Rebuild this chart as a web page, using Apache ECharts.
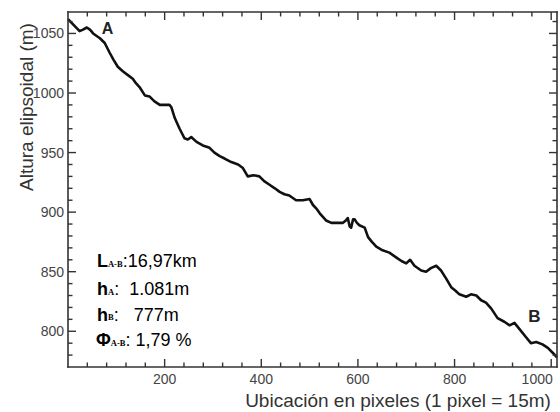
<!DOCTYPE html>
<html>
<head>
<meta charset="utf-8">
<script src="https://cdn.jsdelivr.net/npm/echarts@6/dist/echarts.min.js"></script>
<style>
  html, body { margin: 0; padding: 0; background: #fff; }
  #main { width: 560px; height: 412px; }
</style>
</head>
<body>
<div id="main"></div>
<script>
// perfil: ubicación (pixeles) y altura elipsoidal (m)
var posX = [0, 12, 24, 30, 39, 46, 52, 66, 76, 86, 94, 103, 114, 124, 134, 141, 148, 159, 169, 179,
  190, 203, 210, 214, 221, 231, 241, 248, 255, 266, 279, 293, 303, 314, 324, 338, 352, 362, 372, 384,
  396, 406, 417, 428, 438, 448, 458, 472, 486, 500, 507, 514, 521, 534, 545, 557, 569, 575, 579, 583,
  586, 590, 593, 598, 603, 614, 621, 629, 638, 651, 665, 679, 690, 700, 708, 717, 731, 741, 751, 762,
  772, 783, 793, 802, 810, 824, 834, 845, 855, 865, 876, 889, 903, 914, 924, 934, 948, 958, 969, 982,
  993, 1003, 1012];
var altura = [1062, 1057, 1052, 1053, 1055, 1053, 1050, 1046, 1042, 1034, 1028, 1022, 1018, 1015, 1012, 1008, 1005, 998, 997, 993,
  990, 990, 990, 988, 979, 970, 962, 961, 963, 959, 956, 954, 950, 947, 945, 942, 940, 937, 930, 931,
  930, 926, 923, 920, 917, 915, 914, 910, 910, 911, 906, 903, 899, 893, 891, 891, 891, 893, 895, 888,
  887, 894, 894, 891, 889, 887, 879, 875, 871, 868, 866, 862, 859, 857, 860, 855, 851, 850, 853, 855,
  851, 844, 837, 834, 831, 829, 831, 830, 826, 824, 819, 811, 808, 805, 807, 802, 795, 790, 791, 789,
  786, 782, 778];

// marcas de los ejes
var xMajor = [200, 400, 600, 800, 1000];
var xMinor = [40, 80, 120, 160, 240, 280, 320, 360, 440, 480, 520, 560, 640, 680, 720, 760, 840, 880, 920, 960];
var yMajor = [800, 850, 900, 950, 1000, 1050];
var yMinor = [780, 790, 810, 820, 830, 840, 860, 870, 880, 890, 910, 920, 930, 940, 960, 970, 980, 990,
  1010, 1020, 1030, 1040, 1060];

var xMin = 0, xMax = 1012, yMin = 770, yMax = 1068;
var axisColor = '#333';
var labelColor = '#444';
var fontName = 'Liberation Sans';

var perfil = [];
for (var i = 0; i < posX.length; i++) {
  perfil.push([posX[i], altura[i]]);
}

function annot(txt) {
  return {
    text: txt,
    verticalAlign: 'middle',
    rich: {
      b: { fontFamily: fontName, fontWeight: 'bold', fontSize: 18, color: '#222', lineHeight: 20, verticalAlign: 'bottom' },
      s: { fontFamily: 'Liberation Serif', fontWeight: 'bold', fontSize: 8.5, color: '#222', lineHeight: 20, verticalAlign: 'bottom', padding: [0, 0, 2, 0] },
      n: { fontFamily: fontName, fontSize: 18, color: '#222', lineHeight: 20, verticalAlign: 'bottom' }
    }
  };
}

var textos = [
  { type: 'text', x: 26, y: 107, rotation: Math.PI / 2,
    style: { text: 'Altura elipsoidal (m)', fill: '#333', font: '19px "Liberation Sans"', align: 'center', verticalAlign: 'middle' } },
  { type: 'text', x: 398, y: 400,
    style: { text: 'Ubicación en pixeles (1 pixel = 15m)', fill: '#333', font: '19px "Liberation Sans"', align: 'center', verticalAlign: 'middle' } },
  { type: 'text', x: 107.5, y: 28,
    style: { text: 'A', fill: '#222', font: 'bold 16px "Liberation Sans"', align: 'center', verticalAlign: 'middle' } },
  { type: 'text', x: 534.5, y: 316,
    style: { text: 'B', fill: '#222', font: 'bold 17px "Liberation Sans"', align: 'center', verticalAlign: 'middle' } },
  { type: 'text', x: 97, y: 260, style: annot('{b|L}{s|A-B}{n|:16,97km}') },
  { type: 'text', x: 97, y: 288, style: annot('{b|h}{s|A}{n|:  1.081m}') },
  { type: 'text', x: 97, y: 313.5, style: annot('{b|h}{s|B}{n|:   777m}') },
  { type: 'text', x: 96, y: 339, style: annot('{b|Φ}{s|A-B}{n|: 1,79 %}') }
];

var myChart = echarts.init(document.getElementById('main'), null, { renderer: 'svg' });
var option = {
  animation: false,
  grid: { left: 68, right: 2, top: 12, bottom: 45 },
  xAxis: {
    type: 'value',
    min: xMin,
    max: xMax,
    interval: 40,
    splitLine: { show: false },
    axisLine: { show: false },
    axisTick: { show: false },
    axisLabel: {
      color: labelColor,
      fontFamily: fontName,
      fontSize: 14,
      margin: 5,
      formatter: function (v) {
        if (xMajor.indexOf(v) < 0) return '';
        return v === 1000 ? '{r|1000}' : String(v);
      },
      rich: { r: { fontFamily: fontName, fontSize: 14, color: labelColor, padding: [0, 28, 0, 0] } }
    }
  },
  yAxis: {
    type: 'value',
    min: yMin,
    max: yMax,
    interval: 10,
    splitLine: { show: false },
    axisLine: { show: false },
    axisTick: { show: false },
    axisLabel: {
      color: labelColor,
      fontFamily: fontName,
      fontSize: 14,
      margin: 4,
      formatter: function (v) { return yMajor.indexOf(v) < 0 ? '' : String(v); }
    }
  },
  series: [{
    type: 'line',
    data: perfil,
    showSymbol: false,
    silent: true,
    lineStyle: { color: '#111', width: 2.6, join: 'round' }
  }],
  graphic: textos
};

myChart.setOption(option);

//marco y marcas como rectangulos rellenos, con la escala de la grilla
var marcas = [];
function px(v) { return myChart.convertToPixel({ gridIndex: 0 }, v); }
function caja(x, y, w, h) {
  marcas.push({ type: 'rect', silent: true, z: 100,
    shape: { x: x, y: y, width: w, height: h },
    style: { fill: axisColor } });
}
var p0 = px([xMin, yMin]), p1 = px([xMax, yMax]);
var bw = 1.6;
caja(p0[0] - bw / 2, p1[1] - bw / 2, p1[0] - p0[0] + bw, bw); // arriba
caja(p0[0] - bw / 2, p0[1] - bw / 2, p1[0] - p0[0] + bw, bw); // abajo
caja(p0[0] - bw / 2, p1[1] - bw / 2, bw, p0[1] - p1[1] + bw); // izquierda
caja(p1[0] - bw / 2, p1[1] - bw / 2, bw, p0[1] - p1[1] + bw); // derecha

function marcaX(v, len) {
  var a = px([v, yMin]), b = px([v, yMax]);
  caja(a[0] - 0.7, a[1] - len, 1.4, len);
  caja(b[0] - 0.7, b[1], 1.4, len);
}
function marcaY(v, len) {
  var a = px([xMin, v]), b = px([xMax, v]);
  caja(a[0], a[1] - 0.7, len, 1.4);
  caja(b[0] - len, b[1] - 0.7, len, 1.4);
}
xMajor.forEach(function (v) { marcaX(v, 8); });
xMinor.forEach(function (v) { marcaX(v, 4.5); });
yMajor.forEach(function (v) { marcaY(v, 8); });
yMinor.forEach(function (v) { marcaY(v, 4.5); });

myChart.setOption({ graphic: textos.concat(marcas) });
</script>
</body>
</html>
